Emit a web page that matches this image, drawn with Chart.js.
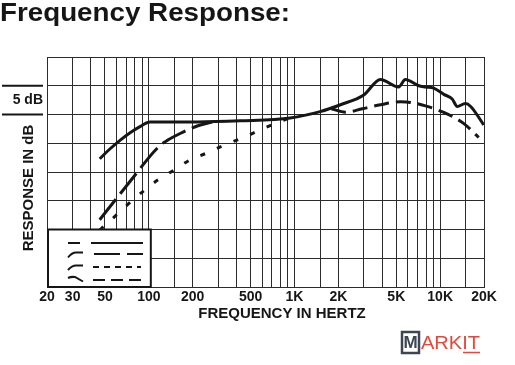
<!DOCTYPE html>
<html>
<head>
<meta charset="utf-8">
<script src="https://cdn.jsdelivr.net/npm/chart.js@4.4.1/dist/chart.umd.min.js"></script>
<style>
  html, body { margin: 0; padding: 0; background: #fff; }
  #wrap { width: 515px; height: 365px; }
</style>
</head>
<body>
<div id="wrap"><canvas id="chart" width="515" height="365"></canvas></div>
<script>
// Rejilla del eje X (Hz) y etiquetas visibles
const gridHz = [20, 30, 40, 50, 60, 70, 80, 90, 100, 150, 200, 300, 400, 500, 600, 700, 800, 900,
                1000, 1500, 2000, 3000, 4000, 5000, 6000, 7000, 8000, 9000, 10000, 15000, 20000];
const tickHz = [20, 30, 50, 100, 200, 500, 1000, 2000, 5000, 10000, 20000];
const tickLabels = ['20', '30', '50', '100', '200', '500', '1K', '2K', '5K', '10K', '20K'];

// Curvas: frecuencia (Hz) y respuesta (dB, escala 0-40, 5 dB por division)
const flatHz = [46, 54, 64, 74, 87, 102, 215, 424, 935, 1500, 2070, 2990, 3890, 5190, 5770, 7130, 7930, 9040, 10600, 12100, 13100, 14900, 16200, 19900];
const flatDb = [22.3, 24.0, 25.6, 26.8, 27.9, 28.7, 28.7, 28.9, 29.4, 30.5, 31.7, 33.4, 36.1, 34.8, 36.1, 35.0, 34.8, 34.6, 33.5, 32.7, 31.4, 31.9, 31.4, 28.2];

const bassCut1Hz = [46, 74, 118, 136, 164, 215, 272];
const bassCut1Db = [11.7, 18.3, 24.5, 25.6, 26.7, 28.0, 28.7];

const bassCut2Hz = [46, 58, 72, 91, 115, 148, 192, 250, 331, 436, 582, 765, 935];
const bassCut2Db = [9.9, 12.2, 14.4, 16.6, 18.6, 20.3, 22.1, 23.3, 24.7, 25.9, 27.3, 28.6, 29.4];

const trebleCutHz = [1790, 2240, 2920, 3890, 5340, 6250, 7930, 10500, 14400, 18400];
const trebleCutDb = [31.0, 30.4, 31.0, 31.7, 32.2, 32.1, 31.5, 30.4, 28.5, 26.0];

const ink = '#161616';
const gridInk = '#2b2b2b';
const fontFamily = '"Liberation Sans", Arial, Helvetica, sans-serif';

function toPoints(hz, db) {
    return hz.map((f, i) => ({ x: f, y: db[i] }));
}

function curve(hz, db, dash) {
    return {
        data: toPoints(hz, db),
        borderColor: ink,
        borderWidth: 3,
        borderDash: dash,
        borderCapStyle: 'butt',
        borderJoinStyle: 'round',
        pointRadius: 0,
        fill: false,
        cubicInterpolationMode: 'monotone'
    };
}

// texto ensanchado a un ancho fijo
function fillStretched(ctx, text, x, y, width) {
    const w = ctx.measureText(text).width;
    ctx.save();
    ctx.translate(x, y);
    ctx.scale(width / w, 1);
    ctx.fillText(text, 0, 0);
    ctx.restore();
}

// Cuadro de leyenda sin texto (abajo a la izquierda)
function drawLegendBox(chart) {
    const { ctx, scales: { x, y } } = chart;
    const left = x.getPixelForValue(20);
    const right = x.getPixelForValue(100) + 2;
    const top = y.getPixelForValue(10);
    const bottom = y.getPixelForValue(0);

    ctx.save();
    ctx.fillStyle = '#fff';
    ctx.fillRect(left, top, right - left, bottom - top);
    ctx.strokeStyle = ink;
    ctx.lineWidth = 2;
    ctx.strokeRect(left + 1, top, right - left - 1, bottom - top);

    ctx.lineWidth = 2;
    ctx.lineCap = 'butt';

    // fila 1: plano
    ctx.beginPath();
    ctx.moveTo(68, 243); ctx.lineTo(80, 243);
    ctx.stroke();
    ctx.beginPath();
    ctx.moveTo(91, 243); ctx.lineTo(143, 243);
    ctx.stroke();

    // fila 2: corte de graves 1
    ctx.beginPath();
    ctx.moveTo(68, 257.5); ctx.quadraticCurveTo(72, 252.5, 76, 252.5); ctx.lineTo(83, 252.5);
    ctx.stroke();
    ctx.setLineDash([26, 7]);
    ctx.beginPath();
    ctx.moveTo(94, 254); ctx.lineTo(143, 254);
    ctx.stroke();
    ctx.setLineDash([]);

    // fila 3: corte de graves 2
    ctx.beginPath();
    ctx.moveTo(68, 270); ctx.quadraticCurveTo(72, 265.5, 76, 265.5); ctx.lineTo(83, 265.5);
    ctx.stroke();
    ctx.setLineDash([6, 5]);
    ctx.beginPath();
    ctx.moveTo(93, 267); ctx.lineTo(141, 267);
    ctx.stroke();
    ctx.setLineDash([]);

    // fila 4: corte de agudos
    ctx.beginPath();
    ctx.moveTo(68, 278); ctx.quadraticCurveTo(71, 276.5, 75, 277); ctx.lineTo(83, 281.5);
    ctx.stroke();
    ctx.setLineDash([12, 6]);
    ctx.beginPath();
    ctx.moveTo(93, 280); ctx.lineTo(141, 280);
    ctx.stroke();
    ctx.restore();
}

const annotations = {
    id: 'annotations',
    afterDatasetsDraw(chart) {
        drawLegendBox(chart);
    },
    afterDraw(chart) {
        const { ctx, scales: { y } } = chart;
        ctx.save();
        ctx.fillStyle = ink;

        // titulo principal (ensanchado como en el original)
        ctx.font = 'bold 25px ' + fontFamily;
        ctx.textBaseline = 'alphabetic';
        ctx.textAlign = 'left';
        fillStretched(ctx, 'Frequency Response:', 0, 21, 290);

        // marca de 5 dB
        ctx.strokeStyle = ink;
        ctx.lineWidth = 2;
        [35, 30].forEach(v => {
            const py = y.getPixelForValue(v);
            ctx.beginPath();
            ctx.moveTo(2, py); ctx.lineTo(43, py);
            ctx.stroke();
        });
        ctx.font = 'bold 14px ' + fontFamily;
        ctx.textAlign = 'right';
        ctx.textBaseline = 'middle';
        ctx.fillText('5 dB', 43, (y.getPixelForValue(35) + y.getPixelForValue(30)) / 2);

        // titulos de ejes
        ctx.font = 'bold 15px ' + fontFamily;
        ctx.textAlign = 'center';
        ctx.fillText('FREQUENCY IN HERTZ', 282, 313.5);
        ctx.save();
        ctx.translate(28.5, 188);
        ctx.rotate(-Math.PI / 2);
        ctx.fillText('RESPONSE IN dB', 0, 0);
        ctx.restore();

        // marca de agua
        ctx.strokeStyle = '#3c4554';
        ctx.lineWidth = 2.5;
        ctx.strokeRect(402, 332, 17, 21);
        ctx.fillStyle = '#3c4554';
        ctx.font = 'bold 17px ' + fontFamily;
        ctx.fillText('M', 410.5, 343);
        ctx.fillStyle = '#e2483b';
        ctx.font = '18px ' + fontFamily;
        ctx.textAlign = 'left';
        ctx.textBaseline = 'alphabetic';
        fillStretched(ctx, 'ARKIT', 421, 349, 59);
        ctx.strokeStyle = '#e2483b';
        ctx.lineWidth = 1.5;
        ctx.beginPath();
        ctx.moveTo(463, 352.5); ctx.lineTo(480, 352.5);
        ctx.stroke();
        ctx.restore();
    }
};

document.addEventListener('DOMContentLoaded', function() {
    const ctx = document.getElementById('chart').getContext('2d');
    new Chart(ctx, {
        type: 'line',
        data: {
            datasets: [
                curve(bassCut2Hz, bassCut2Db, [5, 13]),
                curve(bassCut1Hz, bassCut1Db, [26, 7]),
                curve(trebleCutHz, trebleCutDb, [15, 7]),
                curve(flatHz, flatDb, [])
            ]
        },
        options: {
            responsive: false,
            animation: false,
            devicePixelRatio: 1,
            layout: { padding: { left: 47, right: 31, top: 57, bottom: 0 } },
            plugins: {
                legend: { display: false },
                tooltip: { enabled: false },
                title: { display: false }
            },
            scales: {
                x: {
                    type: 'logarithmic',
                    min: 20,
                    max: 20000,
                    afterBuildTicks: function(scale) {
                        scale.ticks = gridHz.map(v => ({ value: v }));
                    },
                    afterFit: function(scale) {
                        scale.height = 78;
                    },
                    ticks: {
                        autoSkip: false,
                        maxRotation: 0,
                        minRotation: 0,
                        padding: 2,
                        color: ink,
                        font: { family: fontFamily, size: 14, weight: 'bold' },
                        callback: function(value) {
                            const i = tickHz.indexOf(value);
                            return i < 0 ? '' : tickLabels[i];
                        }
                    },
                    grid: { color: gridInk, lineWidth: 1, drawTicks: false },
                    border: { color: gridInk, width: 1 }
                },
                y: {
                    min: 0,
                    max: 40,
                    afterFit: function(scale) {
                        scale.width = 0;
                    },
                    ticks: { display: false, stepSize: 5 },
                    grid: { color: gridInk, lineWidth: 1, drawTicks: false },
                    border: { color: gridInk, width: 1 }
                }
            }
        },
        plugins: [annotations]
    });
});
</script>
</body>
</html>
